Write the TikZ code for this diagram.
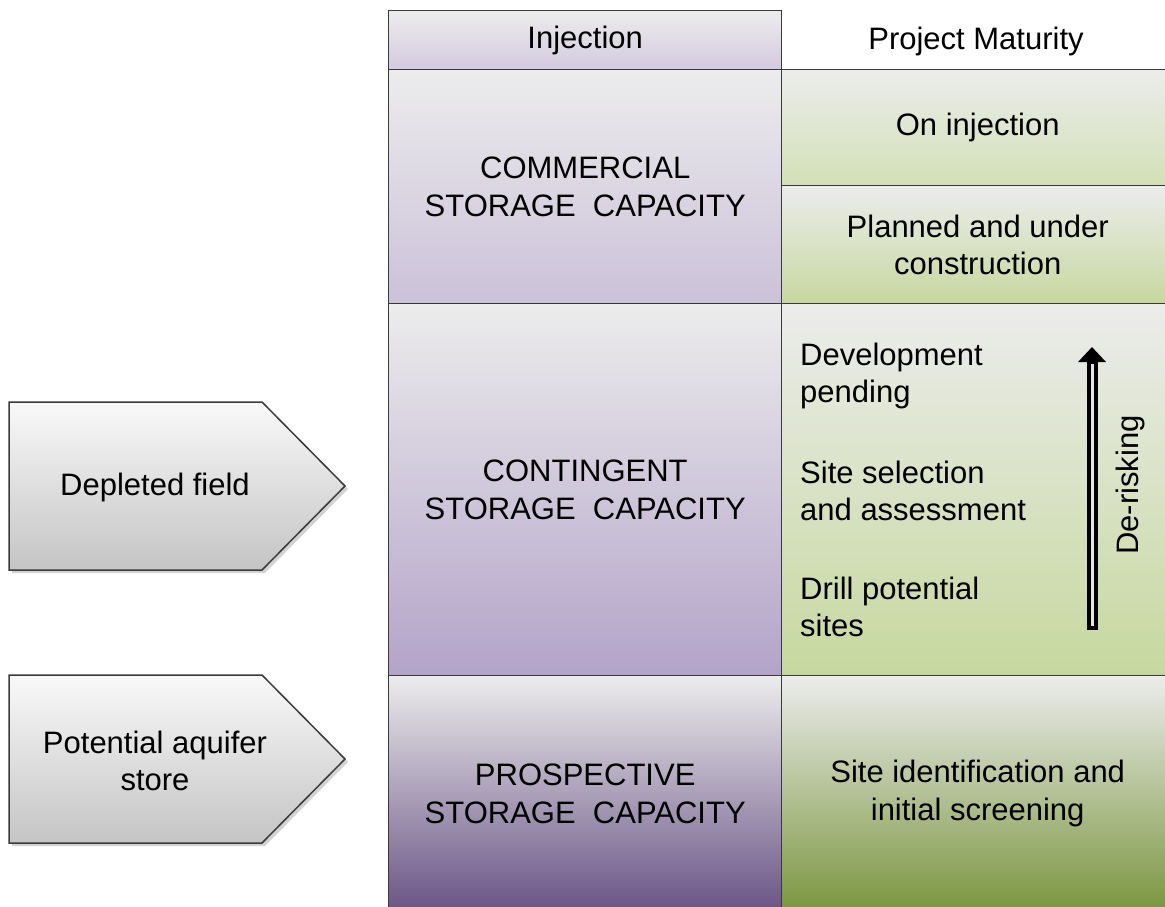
\documentclass[tikz,border=0pt]{standalone}
\usepackage{fontspec}
\setmainfont{Liberation Sans}
\usetikzlibrary{arrows.meta,shadows}

\definecolor{linegray}{HTML}{3A3A3A}
\definecolor{palegray}{HTML}{ECECEC}
\definecolor{lilaclight}{HTML}{CBC1D9}
\definecolor{lilac}{HTML}{B3A3C9}
\definecolor{lilacmid}{HTML}{BCAED0}
\definecolor{lilacdark}{HTML}{6A5486}
\definecolor{sagelight}{HTML}{D2E0B6}
\definecolor{sage}{HTML}{C6D89E}
\definecolor{sagemid}{HTML}{C8D9A2}
\definecolor{sagedark}{HTML}{7A963F}

\begin{document}
\begin{tikzpicture}[x=1pt,y=-1pt,
		every node/.style={font=\fontsize{31}{37.5}\selectfont},
		cell/.style={draw=linegray, line width=1.4pt, anchor=north west,
			inner sep=0pt, align=center},
		purplecell/.style={cell, top color=palegray, bottom color=#1},
		greencell/.style={cell, top color=palegray, bottom color=#1},
		tagbox/.style={draw=linegray, line width=1.5pt, top color=white!95!gray,
			bottom color=white!77!black,
			drop shadow={opacity=0.35, shadow xshift=3pt, shadow yshift=-3pt}}]
		\useasboundingbox (0,0) rectangle (1165,907);
		\clip (0,0) rectangle (1165,907);
		% header row
		\node[purplecell=lilaclight!85!white, minimum width=393, minimum height=59]
			(inj) at (388,10) {Injection};
		\node (mat) at (976,41) {Project Maturity};
		% commercial
		\node[purplecell=lilaclight, minimum width=393, minimum height=234]
			(com) at (388,69) {COMMERCIAL\\STORAGE\ \ CAPACITY};
		\node[greencell=sagelight, minimum width=392, minimum height=116]
			(oninj) at (781,69) {On injection};
		\node[greencell=sage, minimum width=392, minimum height=118]
			(plan) at (781,185) {Planned and under\\construction};
		% contingent
		\node[purplecell=lilac, minimum width=393, minimum height=372]
			(con) at (388,303) {CONTINGENT\\STORAGE\ \ CAPACITY};
		\node[greencell=sage, minimum width=392, minimum height=372]
			(stage) at (781,303) {};
		\node[anchor=west, align=left, inner sep=0pt] (dev) at (800,376) {Development\\pending};
		\node[anchor=west, align=left, inner sep=0pt] (sel) at (800,491) {Site selection\\and assessment};
		\node[anchor=west, align=left, inner sep=0pt] (drill) at (800,607) {Drill potential\\sites};
		% prospective
		\node[cell, top color=palegray, middle color=lilacmid, bottom color=lilacdark,
			minimum width=393, minimum height=236]
			(pros) at (388,675) {PROSPECTIVE\\STORAGE\ \ CAPACITY};
		\node[cell, top color=palegray, middle color=sagemid, bottom color=sagedark,
			minimum width=392, minimum height=236]
			(ident) at (781,675) {Site identification and\\initial screening};
		% de-risking arrow
		\coordinate (rb) at (1092,630);
		\coordinate (rt) at (1092,347);
		\coordinate (ib) at (1092,626);
		\coordinate (it) at (1092,364);
		\draw[line width=11pt, -{Triangle[length=15pt,width=27pt]}] (rb) -- (rt);
		\draw[line width=3pt, white!80!gray] (ib) -- (it);
		\node[rotate=90] (risk) at (1130,485) {De-risking};
		% storage types
		\draw[tagbox] (9,402) -- (262,402) -- (345,486) -- (262,570) -- (9,570) -- cycle;
		\node (depl) at (155,487) {Depleted field};
		\draw[tagbox] (9,675) -- (262,675) -- (345,759) -- (262,843) -- (9,843) -- cycle;
		\node[align=center] (aqu) at (155,761) {Potential aquifer\\store};
\end{tikzpicture}
\end{document}
